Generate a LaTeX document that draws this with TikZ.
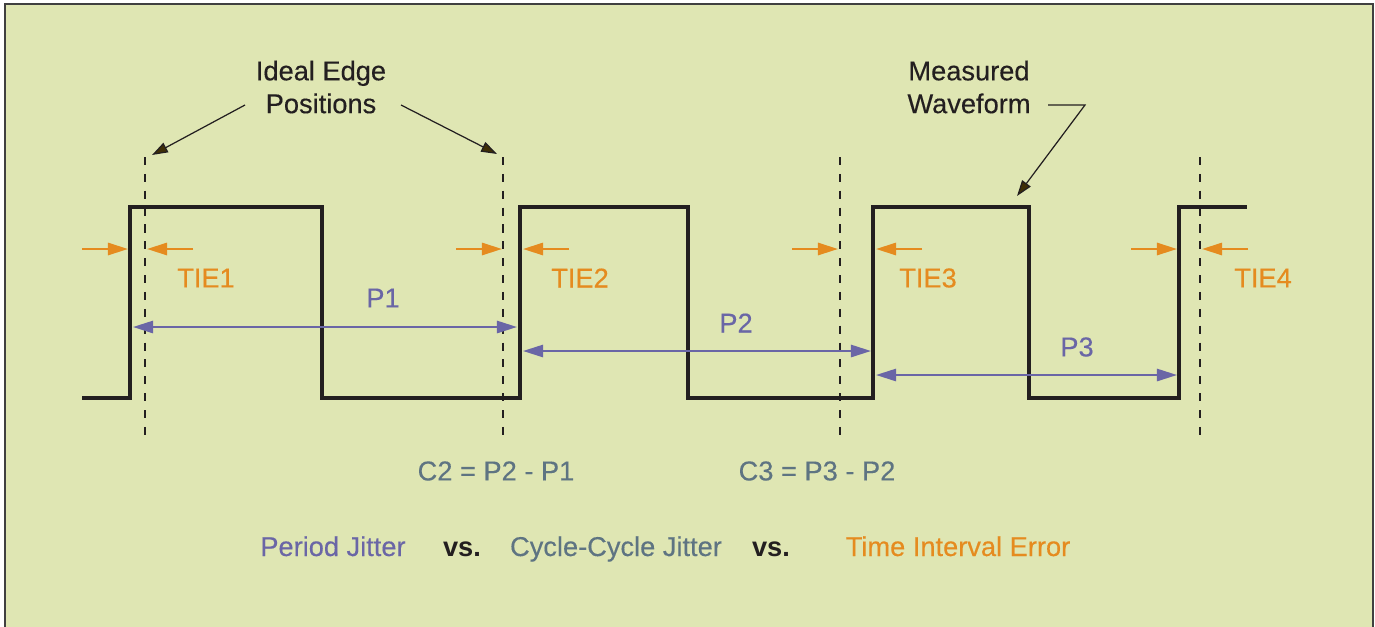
\documentclass[tikz,border=0pt]{standalone}
\usepackage{fontspec}
\setmainfont{Liberation Sans}
\newfontfamily\medfont{Liberation Sans}[FakeBold=0.3]
\usetikzlibrary{arrows.meta, positioning, calc}
\definecolor{panelbg}{RGB}{223,230,179}
\definecolor{tieorange}{RGB}{229,139,31}
\definecolor{perpurple}{RGB}{106,102,166}
\definecolor{cycgray}{RGB}{94,116,130}
\definecolor{inkblack}{RGB}{35,31,32}
\definecolor{tipbrown}{RGB}{62,46,6}

\tikzset{
  lbl/.style={font=\medfont\fontsize{15.5}{18.7}\selectfont, inner sep=0pt, align=center},
  wave/.style={line width=1.8pt, inkblack, line join=miter},
  ideal/.style={line width=1.6pt, inkblack, dash pattern=on 4.6pt off 5pt},
  tiearrow/.style={line width=1.3pt, tieorange, -{Triangle[length=11.5pt,width=7pt]}},
  perarrow/.style={line width=1.2pt, perpurple, {Triangle[length=11.5pt,width=7pt]}-{Triangle[length=11.5pt,width=7pt]}},
  callout/.style={line width=0.7pt, inkblack, -{Triangle[length=9pt,width=6pt,fill=tipbrown]}},
}

\begin{document}
\begin{tikzpicture}[x=0.02cm, y=-0.02cm]
        \useasboundingbox (0,0) rectangle (1375,626);
        % panel
        \fill[white] (0,0) rectangle (1375,626);
        \draw[fill=panelbg, draw=black!75, line width=0.9pt] (5,4) rectangle (1373,660);

        % ideal edge positions (dashed)
        \foreach \i/\x in {1/145, 2/503, 3/840, 4/1200} {
            \coordinate (ideal\i top) at (\x,157);
            \coordinate (ideal\i bot) at (\x,443);
            \draw[ideal] (ideal\i top) -- (ideal\i bot);
        }

        % measured waveform
        \draw[wave] (82,398) -- (130,398) -- (130,207) -- (322,207) -- (322,398)
            -- (520,398) -- (520,207) -- (688,207) -- (688,398)
            -- (873,398) -- (873,207) -- (1029,207) -- (1029,398)
            -- (1179,398) -- (1179,207) -- (1247,207);

        % time interval error
        \foreach \i/\a/\b/\tx in {1/128/147/206, 2/502/523/580, 3/838/876/928, 4/1177/1202/1263} {
            \coordinate (tie\i left) at ({\a-46},249);
            \coordinate (tie\i lefttip) at (\a,249);
            \coordinate (tie\i right) at ({\b+46},249);
            \coordinate (tie\i righttip) at (\b,249);
            \draw[tiearrow] (tie\i left) -- (tie\i lefttip);
            \draw[tiearrow] (tie\i right) -- (tie\i righttip);
            \node[lbl, text=tieorange] (tie\i) at (\tx,278) {TIE\i};
        }

        % periods
        \coordinate (p1a) at (133,327);  \coordinate (p1b) at (517,327);
        \coordinate (p2a) at (523,351);  \coordinate (p2b) at (871,351);
        \coordinate (p3a) at (876,375);  \coordinate (p3b) at (1177,375);
        \draw[perarrow] (p1a) -- (p1b);
        \draw[perarrow] (p2a) -- (p2b);
        \draw[perarrow] (p3a) -- (p3b);
        \node[lbl, text=perpurple] (p1) at (383,298) {P1};
        \node[lbl, text=perpurple] (p2) at (736,323) {P2};
        \node[lbl, text=perpurple] (p3) at (1077,347) {P3};

        % cycle-cycle
        \node[lbl, text=cycgray] (c2) at (496,471) {C2 = P2 - P1};
        \node[lbl, text=cycgray] (c3) at (817,471) {C3 = P3 - P2};

        % callouts
        \node[lbl, text=inkblack] (ideallbl) at (321,87) {Ideal Edge\\Positions};
        \node[lbl, text=inkblack] (measlbl) at (969,87) {Measured\\Waveform};
        \coordinate (idealfromL) at (245,105);
        \coordinate (idealfromR) at (401,105);
        \coordinate (measfrom) at (1048,105);
        \coordinate (measbend) at (1085,105);
        \coordinate (meastip) at (1017,196);
        \draw[callout] (idealfromL) -- (152,155);
        \draw[callout] (idealfromR) -- (497,154);
        \draw[callout] (measfrom) -- (measbend) -- (meastip);

        % legend
        \node[lbl, anchor=base, text=perpurple] (perj) at (333,556) {Period Jitter};
        \node[lbl, anchor=base, text=inkblack, font=\fontsize{15.5}{18.7}\selectfont\bfseries] (vs1) at (462,556) {vs.};
        \node[lbl, anchor=base, text=cycgray] (cycj) at (616,556) {Cycle-Cycle Jitter};
        \node[lbl, anchor=base, text=inkblack, font=\fontsize{15.5}{18.7}\selectfont\bfseries] (vs2) at (771,556) {vs.};
        \node[lbl, anchor=base, text=tieorange] (tiej) at (958,556) {Time Interval Error};
    \end{tikzpicture}
\end{document}
